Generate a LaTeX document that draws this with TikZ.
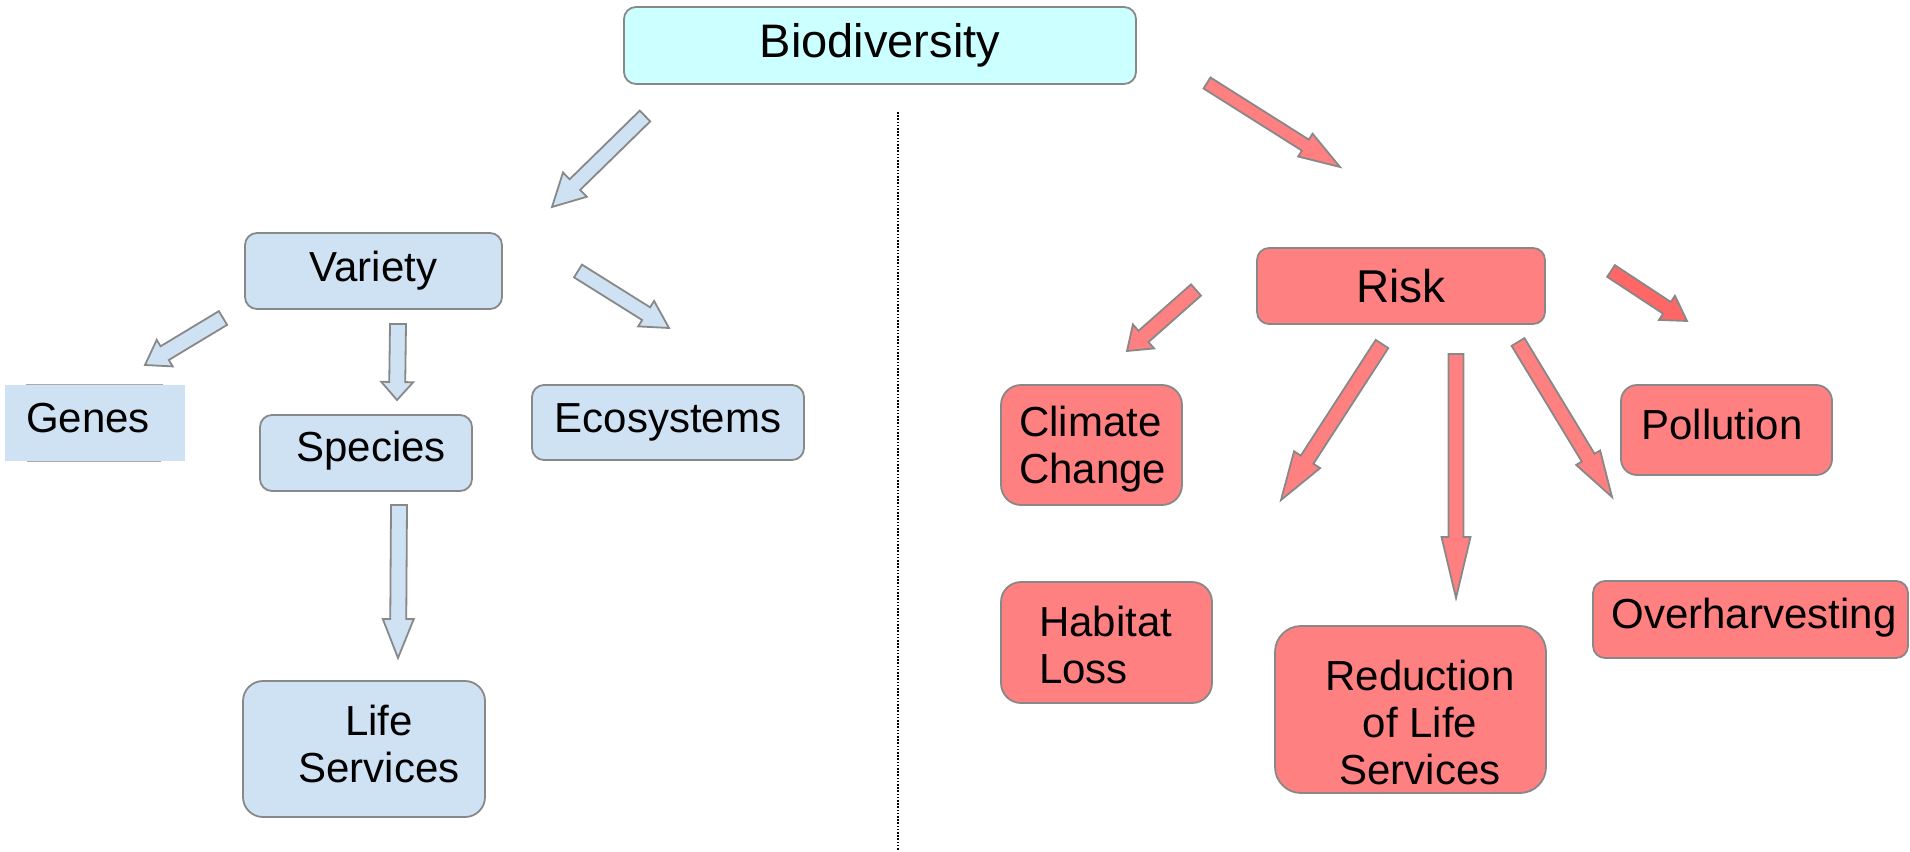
\documentclass[tikz,border=0pt]{standalone}
\usepackage{fontspec}
\setmainfont{Liberation Sans}
\usetikzlibrary{calc}
\definecolor{bioc}{HTML}{CCFFFF}
\definecolor{bluec}{HTML}{CFE2F3}
\definecolor{redc}{HTML}{FF8080}
\definecolor{redd}{HTML}{FF6666}
\definecolor{edgec}{HTML}{888888}
\definecolor{faint}{HTML}{AAAAAA}
\tikzset{
  box/.style={draw=edgec, line width=1.8pt, rounded corners=12pt, inner sep=0pt,
    font=\fontsize{42}{47}\selectfont, text=black},
  bigbox/.style={box, rounded corners=20pt},
  txt/.style={inner sep=0pt, font=\fontsize{42}{47}\selectfont, text=black},
  bluearrow/.style={draw=edgec, fill=bluec, line width=1.8pt, line join=miter},
  redarrow/.style={draw=edgec, fill=redc, line width=1.8pt, line join=miter},
  redarrowd/.style={draw=edgec, fill=redd, line width=1.8pt, line join=miter}
}
% #1 style, #2 start coordinate, #3 tip coordinate, #4 shaft half width, #5 head half width, #6 head length
\newcommand\blockarrow[6]{%
  \coordinate (#3-hb) at ($(#3)!#6!(#2)$);
  \draw[#1] ($(#2)!#4!90:(#3)$) -- ($(#3-hb)!#4!90:(#3)$) -- ($(#3-hb)!#5!90:(#3)$)
    -- (#3) -- ($(#3-hb)!#5!-90:(#3)$) -- ($(#3-hb)!#4!-90:(#3)$)
    -- ($(#2)!#4!-90:(#3)$) -- cycle;
}
\begin{document}
\begin{tikzpicture}[x=1pt,y=-1pt]
\useasboundingbox (0,0) rectangle (1910,851);

% dotted separator
\coordinate (dtop) at (898,112);
\coordinate (dbot) at (898,851);
\draw[black, line width=1.6pt, dash pattern=on 1.6pt off 1.6pt] (dtop) -- (dbot);

% left side boxes
\node[box, fill=bioc, minimum width=512pt, minimum height=77pt, font=\fontsize{47}{52}\selectfont] (bio) at (880,45.5) {Biodiversity};
\node[box, fill=bluec, minimum width=257pt, minimum height=76pt] (var) at (373.5,271) {Variety};
\node[box, draw=none, rounded corners=0pt, fill=bluec, minimum width=180pt, minimum height=76pt] (genes) at (95,423) {};
\node[txt] (genest) at (88,418) {Genes};
\draw[faint, line width=1pt] ($(genes.north west)+(22,0)$) -- ($(genes.north east)+(-23,0)$);
\draw[faint, line width=1pt] ($(genes.south west)+(23,0)$) -- ($(genes.south east)+(-25,0)$);
\node[box, fill=bluec, minimum width=212pt, minimum height=76pt] (spec) at (366,453) {};
\node[txt] (spect) at (371,451) {Species};
\node[box, fill=bluec, minimum width=272pt, minimum height=75pt] (eco) at (668,422.5) {Ecosystems};
\node[bigbox, fill=bluec, minimum width=242pt, minimum height=136pt] (life) at (364,749) {};
\node[txt, align=center] (lifet) at (379,744) {Life\\Services};

% right side boxes
\node[box, fill=redc, minimum width=288pt, minimum height=76pt, font=\fontsize{46}{51}\selectfont] (risk) at (1401,286) {Risk};
\node[bigbox, fill=redc, minimum width=181pt, minimum height=120pt] (clim) at (1091.5,445) {};
\node[txt, align=left, anchor=west] (climt) at (1019,449) {Climate\\Change};
\node[box, fill=redc, minimum width=211pt, minimum height=90pt, rounded corners=16pt] (poll) at (1726.5,430) {};
\node[txt] (pollt) at (1722,424) {Pollution};
\node[bigbox, fill=redc, minimum width=211pt, minimum height=121pt] (hab) at (1106.5,642.5) {};
\node[txt, align=left, anchor=west] (habt) at (1039,645) {Habitat\\Loss};
\node[bigbox, fill=redc, minimum width=271pt, minimum height=167pt, rounded corners=26pt] (red) at (1410.5,709.5) {};
\node[txt, align=center] (redt) at (1420,722) {Reduction\\of Life\\Services};
\node[box, fill=redc, minimum width=315pt, minimum height=77pt] (over) at (1750.5,619.5) {};
\node[txt] (overt) at (1754,618) {Overharvesting};

% arrow end points
\coordinate (bv-s) at (645,116);  \coordinate (bv-t) at (552,207);
\coordinate (vg-s) at (223,318);  \coordinate (vg-t) at (145,365);
\coordinate (vs-s) at (398,324);  \coordinate (vs-t) at (397,400);
\coordinate (ve-s) at (578,271);  \coordinate (ve-t) at (669,328);
\coordinate (sl-s) at (399,505);  \coordinate (sl-t) at (398,658);
\coordinate (br-s) at (1207,83);  \coordinate (br-t) at (1340,167);
\coordinate (rc-s) at (1196,290); \coordinate (rc-t) at (1127,351);
\coordinate (rh-s) at (1382,344); \coordinate (rh-t) at (1281,500);
\coordinate (rr-s) at (1456,354); \coordinate (rr-t) at (1456,598);
\coordinate (ro-s) at (1518,342); \coordinate (ro-t) at (1612,497);
\coordinate (rp-s) at (1611,271); \coordinate (rp-t) at (1687,321);

% blue block arrows
\blockarrow{bluearrow}{bv-s}{bv-t}{7.5pt}{17pt}{32pt}
\blockarrow{bluearrow}{vg-s}{vg-t}{8pt}{15.5pt}{23pt}
\blockarrow{bluearrow}{vs-s}{vs-t}{8pt}{16pt}{18pt}
\blockarrow{bluearrow}{ve-s}{ve-t}{7.5pt}{15pt}{27pt}
\blockarrow{bluearrow}{sl-s}{sl-t}{8pt}{15.5pt}{39pt}

% red block arrows
\blockarrow{redarrow}{br-s}{br-t}{6.5pt}{13.5pt}{41pt}
\blockarrow{redarrow}{rc-s}{rc-t}{7.5pt}{16pt}{22pt}
\blockarrow{redarrow}{rh-s}{rh-t}{7.5pt}{15.5pt}{48pt}
\blockarrow{redarrow}{rr-s}{rr-t}{7.5pt}{14.5pt}{61pt}
\blockarrow{redarrow}{ro-s}{ro-t}{7.5pt}{14pt}{46pt}
\blockarrow{redarrowd}{rp-s}{rp-t}{7pt}{14.5pt}{24pt}
\end{tikzpicture}
\end{document}
